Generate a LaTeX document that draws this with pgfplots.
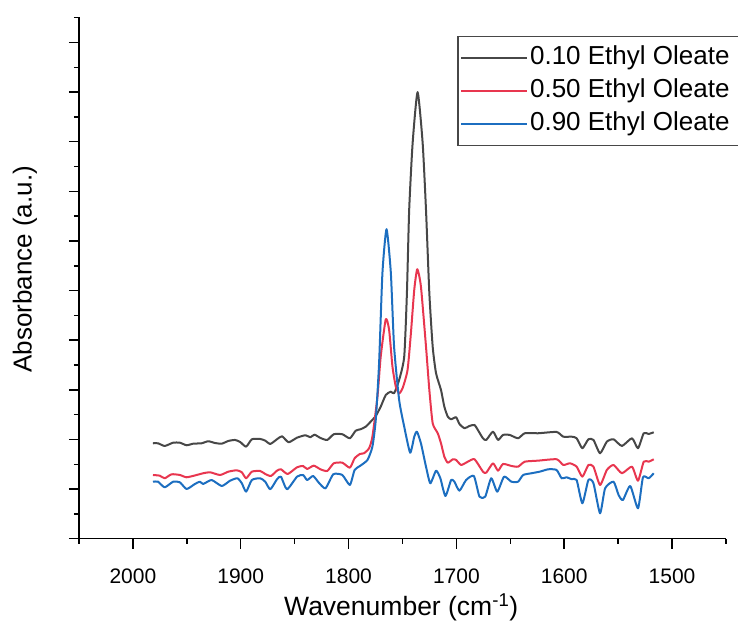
\documentclass[border=0pt]{standalone}
\usepackage{pgfplots}
\pgfplotsset{compat=1.18}
\usepackage{fontspec}
\setmainfont{Liberation Sans}
\definecolor{cgray}{HTML}{474747}
\definecolor{cred}{HTML}{E8364F}
\definecolor{cblue}{HTML}{1C6EC0}
\begin{document}
\begin{tikzpicture}
\useasboundingbox (-79pt,-84.3pt) rectangle (659pt,538.7pt);
\begin{axis}[
  scale only axis, width=647pt, height=522pt,
  x dir=reverse, xmin=1450, xmax=2050, ymin=0, ymax=10.52,
  axis x line*=bottom, axis y line*=left,
  axis line style={line width=1.5pt, black},
  xtick={1500,1600,1700,1800,1900,2000},
  minor xtick={1450,1550,1650,1750,1850,1950,2050},
  ytick={0,1,2,3,4,5,6,7,8,9,10},
  minor ytick={0.5,1.5,2.5,3.5,4.5,5.5,6.5,7.5,8.5,9.5,10.5},
  yticklabels={},
  tick align=outside,
  major tick length=10pt, minor tick length=5pt,
  every tick/.style={black, line width=1.5pt},
  /pgf/number format/assume math mode=true,
  /pgf/number format/set thousands separator={},
  xticklabel style={font=\fontsize{21}{25}\selectfont, anchor=base, yshift=-35pt},
  xlabel={Wavenumber (cm\textsuperscript{-1})},
  ylabel={Absorbance (a.u.)},
  xlabel style={font=\fontsize{26.5}{30}\selectfont, at={(axis description cs:0.498,0)}, anchor=base, yshift=-77pt},
  ylabel style={font=\fontsize{26}{30}\selectfont, at={(axis description cs:-0.0835,0.516)}, anchor=center, rotate=0},
  legend cell align=left,
  legend style={at={(axis description cs:0.585,0.963)}, anchor=north west,
    draw=cgray, line width=1.2pt, fill=white,
    font=\fontsize{26}{30}\selectfont,
    inner xsep=2pt, inner ysep=7pt, row sep=4pt,
    nodes={inner sep=2pt, text height=19pt, text depth=6pt}},
  legend image code/.code={\path (0pt,0pt) -- (66pt,0pt);\draw[#1, line width=2pt] (2pt,0pt) -- (57pt,0pt);},
  every axis plot/.append style={line width=2pt, line join=round, smooth, tension=0.35},
]
\addplot[cgray] table {
x y
1981.4 1.923
1976.7 1.923
1970.5 1.869
1962.7 1.935
1956.5 1.935
1950.2 1.883
1944.1 1.915
1936.3 1.923
1930.1 1.964
1923.9 1.929
1917.6 1.915
1911.5 1.970
1905.2 1.990
1900.6 1.950
1895.0 1.855
1889.7 2.004
1882.0 2.010
1877.3 1.976
1872.6 1.909
1866.4 2.004
1861.7 2.064
1855.6 1.944
1847.8 2.036
1840.0 2.085
1835.4 2.044
1831.6 2.097
1826.1 2.030
1819.8 1.990
1813.7 2.105
1805.8 2.105
1798.8 2.024
1793.4 2.177
1788.8 2.206
1784.1 2.258
1779.5 2.359
1774.8 2.474
1770.2 2.661
1765.5 2.897
1760.8 2.964
1757.8 2.931
1753.1 3.200
1748.4 3.669
1745.9 4.948
1743.8 6.627
1740.6 7.972
1736.0 9.000
1731.3 7.972
1728.2 6.627
1725.1 4.948
1722.0 3.871
1718.9 3.335
1714.3 2.998
1711.2 2.661
1708.0 2.460
1704.9 2.407
1700.3 2.448
1697.2 2.312
1692.5 2.226
1687.9 2.272
1683.2 2.292
1680.1 2.191
1675.4 2.024
1672.3 1.990
1666.1 2.157
1661.4 1.990
1656.8 2.091
1650.6 2.091
1642.8 2.024
1636.6 2.125
1624.2 2.125
1607.1 2.151
1600.9 2.056
1593.1 2.056
1588.5 2.024
1583.2 1.823
1577.6 2.004
1572.9 1.990
1566.8 1.722
1560.5 1.956
1554.3 2.004
1546.5 1.869
1537.2 2.024
1531.6 1.823
1526.3 2.125
1521.7 2.111
1517.0 2.145
};
\addlegendentry{0.10 Ethyl Oleate\hspace*{10pt}}
\addplot[cred] table {
x y
1981.4 1.284
1975.1 1.270
1970.5 1.218
1964.2 1.298
1956.5 1.284
1950.2 1.238
1940.9 1.284
1934.8 1.319
1928.5 1.339
1919.2 1.284
1911.5 1.351
1903.7 1.379
1899.0 1.339
1895.0 1.218
1889.7 1.351
1882.0 1.365
1877.3 1.304
1872.0 1.264
1866.4 1.371
1862.7 1.399
1856.5 1.304
1847.8 1.439
1842.2 1.466
1838.4 1.405
1832.3 1.472
1826.1 1.399
1819.8 1.365
1813.7 1.520
1805.8 1.532
1798.8 1.431
1794.4 1.621
1789.4 1.708
1785.7 1.722
1781.0 1.823
1777.9 2.056
1773.2 2.863
1770.2 3.669
1765.5 4.423
1762.4 4.208
1759.3 3.468
1756.2 3.064
1753.1 2.931
1749.9 3.032
1745.3 3.401
1742.2 4.141
1739.1 5.014
1736.3 5.431
1732.9 5.081
1728.2 3.871
1725.1 2.998
1722.0 2.327
1717.3 2.125
1714.3 1.923
1711.2 1.653
1708.0 1.532
1703.3 1.601
1700.3 1.587
1695.6 1.486
1689.4 1.552
1683.2 1.601
1675.4 1.351
1672.3 1.331
1666.1 1.520
1661.4 1.371
1656.8 1.506
1649.0 1.466
1642.8 1.452
1636.6 1.552
1624.2 1.573
1607.1 1.601
1600.9 1.486
1594.7 1.520
1588.5 1.452
1583.2 1.250
1577.6 1.486
1572.9 1.452
1566.8 1.083
1560.5 1.385
1554.3 1.486
1546.5 1.319
1537.2 1.452
1531.6 1.169
1526.3 1.552
1521.7 1.552
1517.0 1.601
};
\addlegendentry{0.50 Ethyl Oleate\hspace*{10pt}}
\addplot[cblue] table {
x y
1981.4 1.149
1976.7 1.149
1970.5 1.036
1962.7 1.149
1956.5 1.137
1950.2 1.002
1942.5 1.103
1937.9 1.149
1934.8 1.103
1927.0 1.183
1917.6 1.062
1909.9 1.169
1903.1 1.218
1899.0 1.117
1895.0 0.948
1889.7 1.183
1882.0 1.218
1877.3 1.149
1872.6 0.996
1866.4 1.198
1862.7 1.250
1857.1 0.996
1847.8 1.250
1842.2 1.284
1838.4 1.183
1832.9 1.264
1827.6 1.129
1821.4 1.016
1814.2 1.298
1805.8 1.284
1798.8 1.083
1794.4 1.385
1789.4 1.466
1782.5 1.587
1777.9 1.855
1774.8 2.393
1771.7 3.536
1768.6 5.357
1764.8 6.238
1760.8 5.357
1757.8 3.871
1753.1 2.796
1748.4 2.258
1742.9 1.734
1739.1 2.056
1736.6 2.157
1732.9 1.923
1728.2 1.452
1724.2 1.117
1718.9 1.371
1714.9 1.218
1710.2 0.861
1704.9 1.183
1701.9 1.149
1697.2 0.968
1691.0 1.183
1683.8 1.264
1678.6 0.847
1673.3 0.847
1667.7 1.218
1662.1 0.948
1655.8 1.250
1649.0 1.149
1642.8 1.149
1638.1 1.284
1630.4 1.319
1622.7 1.351
1614.8 1.399
1607.1 1.385
1602.4 1.218
1597.8 1.238
1593.1 1.198
1588.5 1.183
1583.2 0.714
1577.6 1.183
1572.9 1.117
1566.8 0.512
1562.1 1.016
1554.3 1.149
1549.6 0.881
1545.6 0.780
1538.8 1.062
1531.6 0.613
1527.0 1.238
1521.7 1.218
1517.0 1.319
};
\addlegendentry{0.90 Ethyl Oleate\hspace*{10pt}}
\end{axis}
\end{tikzpicture}
\end{document}
